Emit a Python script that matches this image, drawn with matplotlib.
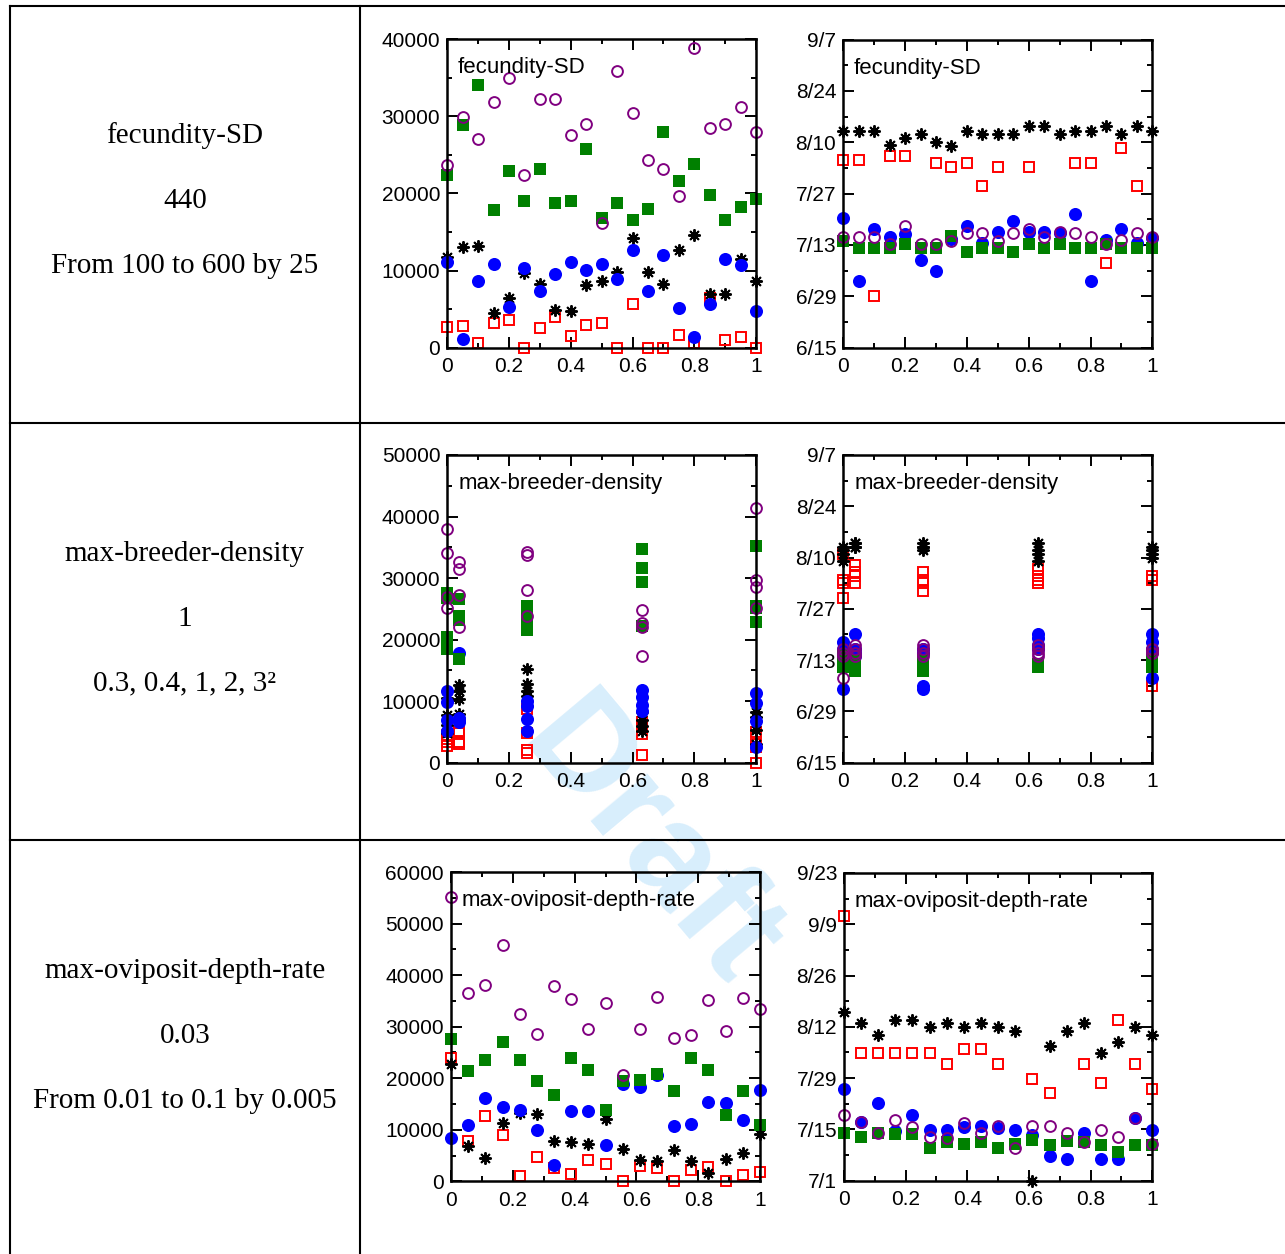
import numpy as np
import matplotlib
matplotlib.use("Agg")
import matplotlib.pyplot as plt
from matplotlib.lines import Line2D
from matplotlib.ticker import FixedLocator, MultipleLocator

nan = np.nan

# ---------------- data ----------------
# row 1 : fecundity-SD (21 runs, x = 0 .. 1 by 0.05)
fsd_x = [0, 0.05, 0.1, 0.15, 0.2, 0.25, 0.3, 0.35, 0.4, 0.45, 0.5,
         0.55, 0.6, 0.65, 0.7, 0.75, 0.8, 0.85, 0.9, 0.95, 1.0]
fsd_purple = [23700, 29900, 27000, 31900, 35000, 22400, 32200, 32200, 27600, 29000, 16200,
              35900, 30400, 24300, 23200, 19700, 38800, 28500, 29000, 31200, 27900]
fsd_green = [22400, 28800, 34100, 17900, 22900, 19000, 23100, 18700, 19000, 25700, 16800,
             18800, 16500, 18000, 27900, 21600, 23800, 19800, 16500, 18200, 19300]
fsd_blue = [11100, 1100, 8600, 10900, 5300, 10300, 7400, 9600, 11100, 10100, 10900,
            8900, 12600, 7400, 12000, 5100, 1400, 5600, 11500, 10700, 4800]
fsd_black = [11700, 13100, 13200, 4500, 6400, 9700, 8300, 4900, 4800, 8100, 8600,
             9800, 14200, 9800, 8200, 12700, 14600, 6900, 7000, 11500, 8600]
fsd_red = [2700, 2800, 600, 3200, 3600, 0, 2600, 4000, 1500, 2900, 3200,
           0, 5700, 0, 0, 1700, 600, 6500, 1000, 1400, 0]
# dates, days after 6/15
fsd_black_d = [59.1, 59.1, 59.1, 55.3, 57.1, 58.2, 56.0, 55.1, 59.1, 58.2, 58.2,
               58.2, 60.3, 60.3, 58.2, 59.1, 59.1, 60.3, 58.2, 60.3, 59.1]
fsd_red_d = [51.2, 51.2, 14.1, 52.3, 52.3, nan, 50.3, 49.2, 50.3, 44.2, 49.2,
             nan, 49.2, nan, nan, 50.3, 50.3, 23.1, 54.4, 44.2, nan]
fsd_blue_d = [35.3, 18.2, 32.4, 30.3, 31.1, 24.0, 21.0, 29.5, 33.3, 28.5, 31.4,
              34.4, 31.5, 31.5, 31.2, 36.4, 18.2, 29.4, 32.4, 28.5, 29.8]
fsd_purple_d = [30.3, 30.3, 30.3, 28.3, 33.3, 28.3, 28.3, 29.2, 31.2, 31.2, 29.2,
                31.2, 32.4, 30.3, 31.5, 31.2, 30.3, 28.3, 29.4, 31.2, 30.3]
fsd_green_d = [29.1, 27.1, 27.1, 27.1, 28.2, 27.1, 27.1, 30.5, 26.0, 27.1, 27.1,
               26.0, 28.2, 27.1, 28.2, 27.1, 27.1, 28.2, 27.1, 27.1, 27.1]

# row 2 : max-breeder-density (5 settings, 4 runs each)
mbd_x = [0, 0.037, 0.259, 0.63, 1.0]
mbd_purple = [[37900, 34000, 27000, 25200], [32600, 31400, 27200, 22000],
              [34300, 33700, 28000, 23800], [24800, 22700, 22100, 17300],
              [41400, 29700, 28600, 25200]]
mbd_green = [[27500, 26800, 20500, 18400], [26600, 23800, 23200, 16900],
             [25400, 23700, 22400, 21600], [34800, 31700, 29400, 22200],
             [35200, 25500, 25100, 22800]]
mbd_blue = [[11600, 9800, 7000, 5200], [17800, 7200, 6900, 6600],
            [10000, 9200, 7100, 5100], [11800, 10600, 9400, 8400],
            [11300, 9700, 6700, 2600]]
mbd_black = [[10500, 7800, 6200, 4800], [12700, 11600, 10300, 7900],
             [15200, 12800, 11600, 10800], [8200, 7000, 6000, 5200],
             [8200, 7500, 5300, 3000]]
mbd_red = [[4500, 3900, 3300, 2700], [5200, 4800, 3300, 3000],
           [8700, 4800, 2100, 1600], [6600, 6000, 4600, 1300],
           [5000, 3000, 2600, 0]]
mbd_black_d = [[59, 58, 57, 55], [60, 60, 59, 59], [60, 59, 59, 58],
               [60, 58, 57, 55], [59, 58, 57, 56]]
mbd_red_d = [[57, 50, 49, 45], [54, 52, 51, 49], [52, 50, 49, 47],
             [53, 51, 50, 49], [51, 50, 21, nan]]
mbd_blue_d = [[33, 31, 30, 20], [35, 31, 30, 29], [31, 30, 21, 20],
              [35, 34, 32, 31], [35, 33, 31, 23]]
mbd_purple_d = [[31, 30, 29, 23], [32, 31, 30, 29], [32, 31, 30, 29],
                [32, 31, 30, 29], [31, 31, 30, 30]]
mbd_green_d = [[29, 28, 27, 26], [28, 27, 26, 25], [28, 27, 26, 25],
               [27, 27, 27, 26], [28, 27, 27, 26]]

# row 3 : max-oviposit-depth-rate (19 runs)
mod_x = [0, 0.056, 0.111, 0.167, 0.222, 0.278, 0.333, 0.389, 0.444, 0.5,
         0.556, 0.611, 0.667, 0.722, 0.778, 0.833, 0.889, 0.944, 1.0]
mod_purple = [55100, 36500, 38100, 45800, 32500, 28600, 37900, 35400, 29600, 34600,
              20700, 29600, 35800, 27800, 28300, 35100, 29200, 35600, 33400]
mod_green = [27600, 21300, 23600, 27000, 23600, 19500, 16700, 23900, 21500, 13900,
             19400, 19700, 20900, 17500, 23900, 21500, 12800, 17500, 11000]
mod_blue = [8400, 11000, 16200, 14500, 13900, 10000, 3200, 13600, 13600, 7100,
            18800, 18200, 20700, 10700, 11100, 15400, 15200, 11800, 17800]
mod_black = [22800, 6800, 4500, 11300, 13200, 13100, 7800, 7600, 7200, 12000,
             6300, 4200, 3900, 6000, 4000, 1600, 4400, 5400, 9100]
mod_red = [23900, 7900, 12600, 8900, 1000, 4700, 2500, 1500, 4200, 3400,
           0, 2900, 2500, 0, 2100, 2700, 100, 1300, 1800]
# dates, days after 7/1
mod_black_d = [46.0, 43.0, 39.9, 43.9, 43.9, 41.9, 43.0, 41.9, 43.0, 41.9,
               40.9, 0.0, 36.9, 40.9, 43.0, 34.9, 38.0, 41.9, 39.9]
mod_red_d = [72.2, 34.9, 34.9, 34.9, 34.9, 34.9, 31.8, 35.9, 35.9, 31.8,
             nan, 27.8, 23.9, nan, 31.8, 26.8, 43.9, 31.8, 25.0]
mod_blue_d = [24.9, 16.1, 21.1, 13.5, 17.9, 13.8, 13.8, 14.7, 14.9, 14.3,
              13.8, 12.5, 6.7, 5.8, 12.9, 5.8, 5.8, 17.0, 13.8]
mod_purple_d = [17.9, 16.1, 12.9, 16.7, 14.7, 11.8, 11.6, 15.8, 13.1, 14.9,
                8.8, 14.9, 14.9, 12.9, 10.6, 13.8, 11.8, 17.0, 10.0]
mod_green_d = [12.9, 11.8, 12.9, 12.7, 12.7, 8.8, 10.6, 10.0, 10.6, 8.8,
               10.0, 11.1, 9.7, 10.8, 10.6, 9.7, 7.9, 9.7, 9.7]

x_ticks = [0, 0.2, 0.4, 0.6, 0.8, 1.0]
x_labels = ["0", "0.2", "0.4", "0.6", "0.8", "1"]
dates_jun = ["6/15", "6/29", "7/13", "7/27", "8/10", "8/24", "9/7"]
dates_jul = ["7/1", "7/15", "7/29", "8/12", "8/26", "9/9", "9/23"]

row_names = ["fecundity-SD", "max-breeder-density", "max-oviposit-depth-rate"]
row_defaults = ["440", "1", "0.03"]
row_ranges = ["From 100 to 600 by 25", "0.3, 0.4, 1, 2, 3\u00b2", "From 0.01 to 0.1 by 0.005"]

# ---------------- figure ----------------
W, H = 1285, 1254
fig = plt.figure(figsize=(W / 100, H / 100), dpi=100)
fig.patch.set_facecolor("white")

STYLE = {
    "red": dict(marker="s", ms=7.0, mfc="none", mec="#ff0000", mew=1.4),
    "black": dict(marker=(8, 2, 0), ms=8.8, mec="black", mew=1.4),
    "blue": dict(marker="o", ms=9.4, mfc="#0000ff", mec="#0000ff", mew=0),
    "green": dict(marker="s", ms=8.4, mfc="#008000", mec="#008000", mew=0),
    "purple": dict(marker="o", ms=7.8, mfc="none", mec="#800080", mew=1.4),
}
ORDER = ["red", "black", "blue", "green", "purple"]


def px_axes(x0, y0, x1, y1):
    return fig.add_axes([x0 / W, 1 - y1 / H, (x1 - x0) / W, (y1 - y0) / H])


def style_axes(ax, ymax, ystep, yminor, ylabels, title):
    ax.set_facecolor("none")
    ax.set_xlim(0, 1)
    ax.set_ylim(0, ymax)
    ax.xaxis.set_major_locator(FixedLocator(x_ticks))
    ax.set_xticklabels(x_labels)
    ax.xaxis.set_minor_locator(MultipleLocator(0.1))
    yt = list(np.arange(0, ymax + 1, ystep))
    ax.yaxis.set_major_locator(FixedLocator(yt))
    ax.set_yticklabels(ylabels)
    ax.yaxis.set_minor_locator(MultipleLocator(yminor))
    for s in ax.spines.values():
        s.set_linewidth(1.8)
    ax.tick_params(which="both", direction="in", top=True, right=True, width=1.4)
    ax.tick_params(which="major", length=7.7, labelsize=15)
    ax.tick_params(which="minor", length=3.6)
    ax.tick_params(axis="x", pad=7)
    ax.tick_params(axis="y", pad=5)
    ax.text(0.035, 0.889, title, transform=ax.transAxes, fontsize=16,
            ha="left", va="baseline")


def draw(ax, x, series):
    for key in ORDER:
        ax.plot(x, series[key], ls="none", clip_on=False, **STYLE[key])


def flat(groups, xs):
    xx, yy = [], []
    for xv, g in zip(xs, groups):
        xx += [xv] * len(g)
        yy += list(g)
    return xx, yy


plt.rcParams["font.family"] = ["Liberation Sans", "DejaVu Sans"]

count_labels = lambda top: [str(v) for v in range(0, top + 1, 10000)]

# row 1
ax = px_axes(447.3, 39, 756, 347.7)
draw(ax, fsd_x, dict(red=fsd_red, black=fsd_black, blue=fsd_blue, green=fsd_green, purple=fsd_purple))
style_axes(ax, 40000, 10000, 5000, count_labels(40000), "fecundity-SD")

ax = px_axes(843.3, 39.5, 1152.3, 347.7)
draw(ax, fsd_x, dict(red=fsd_red_d, black=fsd_black_d, blue=fsd_blue_d, green=fsd_green_d, purple=fsd_purple_d))
style_axes(ax, 84, 14, 7, dates_jun, "fecundity-SD")

# row 2
ax = px_axes(447.3, 455, 756, 762.7)
s = {}
for key, g in zip(ORDER, [mbd_red, mbd_black, mbd_blue, mbd_green, mbd_purple]):
    xx, s[key] = flat(g, mbd_x)
draw(ax, xx, s)
style_axes(ax, 50000, 10000, 5000, count_labels(50000), "max-breeder-density")

ax = px_axes(843.3, 455, 1152.3, 762.7)
s = {}
for key, g in zip(ORDER, [mbd_red_d, mbd_black_d, mbd_blue_d, mbd_green_d, mbd_purple_d]):
    xx, s[key] = flat(g, mbd_x)
draw(ax, xx, s)
style_axes(ax, 84, 14, 7, dates_jun, "max-breeder-density")

# row 3
ax = px_axes(451, 872, 760, 1181.3)
draw(ax, mod_x, dict(red=mod_red, black=mod_black, blue=mod_blue, green=mod_green, purple=mod_purple))
style_axes(ax, 60000, 10000, 5000, count_labels(60000), "max-oviposit-depth-rate")

ax = px_axes(844, 873, 1152.3, 1180.7)
draw(ax, mod_x, dict(red=mod_red_d, black=mod_black_d, blue=mod_blue_d, green=mod_green_d, purple=mod_purple_d))
style_axes(ax, 84, 14, 7, dates_jul, "max-oviposit-depth-rate")

# left column text
for i in range(3):
    off = i * 417.5
    for j, txt in enumerate([row_names[i], row_defaults[i], row_ranges[i]]):
        fig.text(185 / W, 1 - (143 + off + 65 * j) / H, txt, ha="center", va="baseline",
                 fontsize=21, family=["Liberation Serif", "DejaVu Serif"])

# table grid
def fline(xs, ys):
    fig.add_artist(Line2D([x / W for x in xs], [1 - y / H for y in ys],
                          transform=fig.transFigure, color="black", lw=1.5))

for y in [6, 422.5, 839.5]:
    fline([10, W], [y, y])
for x in [10, 360]:
    fline([x, x], [6, H])

# watermark
fig.text(648 / W, 1 - 845 / H, "Draft", rotation=-50, fontsize=100, weight="bold",
         color="#d8eefc", ha="center", va="center", rotation_mode="anchor", zorder=-1)

fig.savefig("out.png", dpi=100, facecolor="white")
